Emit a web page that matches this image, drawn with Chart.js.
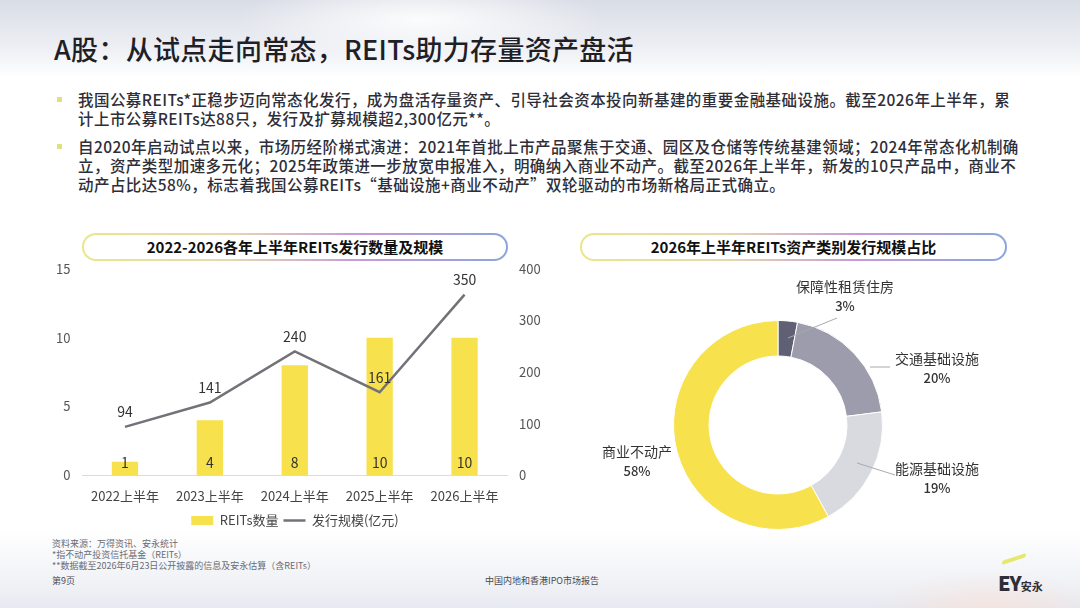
<!DOCTYPE html>
<html lang="zh-CN">
<head>
<meta charset="UTF-8">
<title>A股 REITs</title>
<script src="https://cdnjs.cloudflare.com/ajax/libs/Chart.js/4.4.0/chart.umd.min.js"></script>
<style>
    html, body { margin: 0; padding: 0; }
    body {
        width: 1080px; height: 608px; position: relative; overflow: hidden;
        font-family: "Noto Sans CJK SC", "Noto Sans", sans-serif;
        color: #2e2e38;
        background:
            radial-gradient(ellipse 260px 60px at 420px 20px, rgba(255,255,255,0.9), rgba(255,255,255,0) 70%),
            linear-gradient(180deg, #d9dde6 0px, #eceef3 45px, #ffffff 78px, #ffffff 530px, #eef0f5 590px, #e6e9f0 608px);
    }
    .glow {
        position: absolute; right: 0; bottom: 0; width: 260px; height: 90px;
        background: radial-gradient(ellipse 150px 60px at 170px 100px, rgba(250,225,215,0.8), rgba(255,255,255,0) 80%);
    }
    h1 {
        position: absolute; left: 54px; top: 29px; margin: 0;
        font-size: 27px; font-weight: 500; letter-spacing: 0.3px; color: #1f1f28;
    }
    .bullets { position: absolute; left: 57px; top: 90px; }
    .bullet { position: relative; padding-left: 21px; margin-bottom: 9px;
        font-size: 15.5px; line-height: 19px; letter-spacing: 0.45px; font-weight: 500; color: #2e2e38; white-space: nowrap; }
    .bullet::before { content: ""; position: absolute; left: 0; top: 7px; width: 5px; height: 5px; background: #e3e07a; }
    .pill {
        position: absolute; top: 233px; height: 28px; border-radius: 14px; padding: 2px; box-sizing: border-box;
        background: linear-gradient(90deg, #ebe68a 0%, #e6d7b0 35%, #c89ad8 65%, #8aa6dc 100%);
    }
    .pill div {
        height: 100%; border-radius: 12px; background: #fff; text-align: center;
        font-size: 15px; font-weight: 700; line-height: 24px; color: #111;
    }
    #barBox { position: absolute; left: 40px; top: 249px; width: 510px; height: 288px; }
    #pieBox { position: absolute; left: 570px; top: 268px; width: 450px; height: 272px; }
    .note { position: absolute; left: 52px; font-size: 9px; color: #6b6b73; line-height: 11px; }
    .foot { position: absolute; top: 574px; font-size: 9px; color: #4a4a52; }
    .logo { position: absolute; left: 998px; top: 568px; font-weight: 900; font-size: 20px; color: #2e2e38; letter-spacing: -1px; }
    .logo span { font-size: 11px; letter-spacing: 0; font-weight: 700; }
    .slash { position: absolute; left: 1002px; top: 557px; width: 24px; height: 4px; background: #e6e86a;
        transform: skewY(-18deg); border-radius: 2px; }
</style>
</head>
<body>
<div class="glow"></div>
<h1>A股：从试点走向常态，REITs助力存量资产盘活</h1>

<div class="bullets">
    <div class="bullet">我国公募REITs*正稳步迈向常态化发行，成为盘活存量资产、引导社会资本投向新基建的重要金融基础设施。截至2026年上半年，累<br>计上市公募REITs达88只，发行及扩募规模超2,300亿元**。</div>
    <div class="bullet">自2020年启动试点以来，市场历经阶梯式演进：2021年首批上市产品聚焦于交通、园区及仓储等传统基建领域；2024年常态化机制确<br>立，资产类型加速多元化；2025年政策进一步放宽申报准入，明确纳入商业不动产。截至2026年上半年，新发的10只产品中，商业不<br>动产占比达58%，标志着我国公募REITs“基础设施+商业不动产”双轮驱动的市场新格局正式确立。</div>
</div>

<div class="pill" style="left:82px; width:426px;"><div>2022-2026各年上半年REITs发行数量及规模</div></div>
<div class="pill" style="left:580px; width:427px;"><div>2026年上半年REITs资产类别发行规模占比</div></div>

<div id="barBox"><canvas id="barChart"></canvas></div>
<div id="pieBox"><canvas id="pieChart"></canvas></div>

<div class="note" style="top:538px;">资料来源：万得资讯、安永统计</div>
<div class="note" style="top:549px;">*指不动产投资信托基金（REITs）</div>
<div class="note" style="top:560px;">**数据截至2026年6月23日公开披露的信息及安永估算（含REITs）</div>
<div class="foot" style="left:52px;">第9页</div>
<div class="foot" style="left:485px;">中国内地和香港IPO市场报告</div>
<div class="slash"></div>
<div class="logo">EY<span>安永</span></div>

<script>
    // left chart data
    const periods = ['2022上半年', '2023上半年', '2024上半年', '2025上半年', '2026上半年'];
    const reitsCount = [1, 4, 8, 10, 10];
    const issueScale = [94, 141, 240, 161, 350];

    // right chart data
    const assetTypes = ['保障性租赁住房', '交通基础设施', '能源基础设施', '商业不动产'];
    const assetShare = [3, 20, 19, 58];

    const font = '"Noto Sans CJK SC", "Noto Sans", sans-serif';
    const yellow = '#f7e24e';
    const gray = '#727278';

    // numbers on the bars and above the line points
    const valueLabels = {
        id: 'valueLabels',
        afterDatasetsDraw(chart) {
            const ctx = chart.ctx;
            ctx.save();
            ctx.font = '14px ' + font;
            ctx.fillStyle = '#333';
            ctx.textAlign = 'center';
            ctx.textBaseline = 'middle';
            chart.getDatasetMeta(0).data.forEach((bar, i) => {
                ctx.fillText(reitsCount[i], bar.x, bar.base - 13);
            });
            chart.getDatasetMeta(1).data.forEach((pt, i) => {
                ctx.fillText(issueScale[i], pt.x, pt.y - 15);
            });
            ctx.restore();
        }
    };

    new Chart(document.getElementById('barChart'), {
        type: 'bar',
        data: {
            labels: periods,
            datasets: [{
                type: 'bar',
                label: 'REITs数量',
                data: reitsCount,
                backgroundColor: yellow,
                borderWidth: 0,
                barPercentage: 0.31,
                categoryPercentage: 1,
                yAxisID: 'y',
                order: 2
            }, {
                type: 'line',
                label: '发行规模(亿元)',
                data: issueScale,
                borderColor: gray,
                backgroundColor: gray,
                borderWidth: 2.5,
                pointRadius: 0,
                tension: 0,
                yAxisID: 'y1',
                order: 1
            }]
        },
        options: {
            responsive: true,
            maintainAspectRatio: false,
            animation: false,
            layout: { padding: { top: 0, bottom: 0 } },
            plugins: {
                tooltip: { enabled: false },
                legend: {
                    position: 'bottom',
                    labels: {
                        usePointStyle: true,
                        pointStyleWidth: 22,
                        boxHeight: 9,
                        padding: 5,
                        color: '#444',
                        font: { family: font, size: 13 },
                        sort: (a, b) => a.datasetIndex - b.datasetIndex,
                        generateLabels(chart) {
                            const items = Chart.defaults.plugins.legend.labels.generateLabels(chart);
                            items.forEach(it => { it.pointStyle = it.datasetIndex === 0 ? 'rect' : 'line'; });
                            return items;
                        }
                    }
                }
            },
            scales: {
                x: {
                    grid: { display: false },
                    border: { display: true, color: '#dcdcdc', width: 1 },
                    ticks: { color: '#444', padding: 5, font: { family: font, size: 13 } }
                },
                y: {
                    position: 'left',
                    min: 0, max: 15,
                    grid: { display: false, drawTicks: false },
                    border: { display: false },
                    ticks: { stepSize: 5, color: '#555', padding: 12, font: { family: font, size: 13 } },
                    afterFit(scale) { scale.width = 42.5; }
                },
                y1: {
                    position: 'right',
                    min: 0, max: 400,
                    grid: { display: false, drawTicks: false },
                    border: { display: false },
                    ticks: { stepSize: 100, color: '#555', padding: 12, font: { family: font, size: 13 } },
                    afterFit(scale) { scale.width = 43; }
                }
            }
        },
        plugins: [valueLabels]
    });

    // label placement around the doughnut, relative to its centre
    const sliceLabelPos = [[67, -138], [159, -66], [159, 44], [-141, 27]];
    const leaderLines = [[[10, -87], [59, -107]], [[92, -58], [112, -58]], [[79, 38], [117, 50]], null];

    const sliceLabels = {
        id: 'sliceLabels',
        afterDatasetsDraw(chart) {
            const ctx = chart.ctx;
            const arc0 = chart.getDatasetMeta(0).data[0];
            const cx = arc0.x, cy = arc0.y;
            ctx.save();
            ctx.strokeStyle = '#a9a9b2';
            ctx.lineWidth = 1;
            leaderLines.forEach(seg => {
                if (!seg) return;
                ctx.beginPath();
                ctx.moveTo(cx + seg[0][0], cy + seg[0][1]);
                ctx.lineTo(cx + seg[1][0], cy + seg[1][1]);
                ctx.stroke();
            });
            ctx.fillStyle = '#333';
            ctx.textAlign = 'center';
            ctx.textBaseline = 'middle';
            assetTypes.forEach((name, i) => {
                const [dx, dy] = sliceLabelPos[i];
                ctx.font = '14px ' + font;
                ctx.fillText(name, cx + dx, cy + dy);
                ctx.font = '500 13px ' + font;
                ctx.fillText(assetShare[i] + '%', cx + dx, cy + dy + 19);
            });
            ctx.restore();
        }
    };

    new Chart(document.getElementById('pieChart'), {
        type: 'doughnut',
        data: {
            labels: assetTypes,
            datasets: [{
                data: assetShare,
                backgroundColor: ['#5f6074', '#9d9cac', '#d9d9e0', yellow],
                borderColor: '#ffffff',
                borderWidth: 1
            }]
        },
        options: {
            responsive: true,
            maintainAspectRatio: false,
            animation: false,
            cutout: '66%',
            layout: { padding: { left: 103, right: 137, top: 52, bottom: 10 } },
            plugins: {
                legend: { display: false },
                tooltip: { enabled: false }
            }
        },
        plugins: [sliceLabels]
    });
</script>
</body>
</html>
